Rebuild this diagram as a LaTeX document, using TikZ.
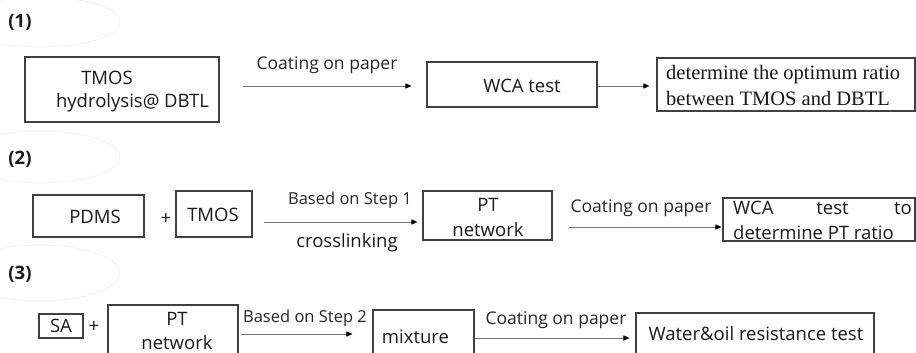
\documentclass[tikz,border=0pt]{standalone}
\usepackage{fontspec}
\setmainfont{Open Sans}
\newfontfamily\serifface{Liberation Serif}
\usetikzlibrary{arrows.meta}
\begin{document}
\begin{tikzpicture}[x=1pt,y=-1pt,
  box/.style={draw=black!75, line width=1.1pt, inner sep=0pt},
  txt/.style={inner sep=0pt, text=black!90, font=\fontsize{18.5}{20}\selectfont},
  small/.style={inner sep=0pt, text=black!85, font=\fontsize{16.5}{18}\selectfont},
  head/.style={inner sep=0pt, text=black!90, font=\fontsize{18.5}{20}\selectfont\bfseries},
  serif/.style={inner sep=0pt, text=black!90, font=\fontsize{20.5}{22}\selectfont\serifface},
  arr/.style={draw=black!55, line width=0.9pt,
    -{Triangle[length=6pt,width=5pt,color=black]}},
  halo/.style={draw=black!6, line width=0.6pt}
]
\useasboundingbox (0,0) rectangle (916,353);
\clip (0,0) rectangle (916,353);
\fill[white] (0,0) rectangle (916,353);

% faint outlines around the step labels
\draw[halo] (40,22) ellipse [x radius=80, y radius=25];
\draw[halo] (40,157) ellipse [x radius=80, y radius=26];
\draw[halo] (40,273) ellipse [x radius=80, y radius=28];

% ---------- step 1 ----------
\node[head] (h1) at (20,22) {(1)};
\node[box, minimum width=194pt, minimum height=65pt] (b1) at (122,89.5) {};
\node[txt] (b1a) at (107,78) {TMOS};
\node[txt] (b1b) at (132.5,103) {hydrolysis@ DBTL};
\node[box, minimum width=170pt, minimum height=45pt] (b2) at (512,84.5) {};
\node[txt] (b2a) at (522,86) {WCA test};
\node[box, minimum width=258pt, minimum height=53pt] (b3) at (786,84.5) {};
\node[serif, anchor=west] (b3a) at (666,75) {determine the optimum ratio};
\node[serif, anchor=west] (b3b) at (666,98) {between TMOS and DBTL};

\draw[arr, shorten <=23pt, shorten >=15pt] (b1.east |- 0,86) -- (b2.west |- 0,86);
\node[small, font=\fontsize{17.5}{19}\selectfont] (l1) at (327,65) {Coating on paper};
\draw[arr, shorten >=7pt] (b2.east |- 0,86) -- (b3.west |- 0,86);

% ---------- step 2 ----------
\node[head] (h2) at (20,159) {(2)};
\node[box, minimum width=111pt, minimum height=42pt] (b4) at (88.5,216) {};
\node[txt] (b4a) at (95,217) {PDMS};
\node[txt] (p1) at (166,219) {+};
\node[box, minimum width=76pt, minimum height=46pt] (b5) at (214,214) {};
\node[txt] (b5a) at (213,215) {TMOS};
\node[box, minimum width=129pt, minimum height=49pt] (b6) at (487.5,215.5) {};
\node[txt] (b6a) at (488,205) {PT};
\node[txt] (b6b) at (488,230) {network};
\node[box, minimum width=192pt, minimum height=43pt] (b7) at (819,219.5) {};
\node[txt, anchor=west] (b7a) at (733,208) {WCA};
\node[txt] (b7b) at (832.5,208) {test};
\node[txt, anchor=east] (b7c) at (912,208) {to};
\node[txt, anchor=west] (b7d) at (733,233) {determine PT ratio};

\draw[arr, shorten <=11pt, shorten >=5pt] (b5.east |- 0,222) -- (b6.west |- 0,222);
\node[small] (l2) at (350,200) {Based on Step 1};
\node[txt] (l3) at (347,243) {crosslinking};
\draw[arr, shorten <=16pt, shorten >=1pt] (b6.east |- 0,227) -- (b7.west |- 0,227);
\node[small, font=\fontsize{17.5}{19}\selectfont] (l4) at (641,208) {Coating on paper};

% ---------- step 3 ----------
\node[head] (h3) at (20,274) {(3)};
\node[box, minimum width=44pt, minimum height=24pt] (b8) at (61,326) {};
\node[txt] (b8a) at (61,326) {SA};
\node[txt] (p2) at (94,327) {+};
\node[box, minimum width=130pt, minimum height=75pt] (b9) at (173,342.5) {};
\node[txt] (b9a) at (177,319) {PT};
\node[txt] (b9b) at (177,342.5) {network};
\node[box, minimum width=101pt, minimum height=70pt] (b10) at (423.5,345) {};
\node[txt] (b10a) at (415.5,337) {mixture};
\node[box, minimum width=238pt, minimum height=67pt] (b11) at (755,346.5) {};
\node[txt] (b11a) at (756,334) {Water\&oil resistance test};

\draw[arr, shorten <=2pt, shorten >=20pt] (b9.east |- 0,334) -- (b10.west |- 0,334);
\node[small] (l5) at (305,318) {Based on Step 2};
\draw[arr, shorten >=6pt] (b10.east |- 0,338) -- (b11.west |- 0,338);
\node[small, font=\fontsize{17.5}{19}\selectfont] (l6) at (556,320) {Coating on paper};
\end{tikzpicture}
\end{document}
